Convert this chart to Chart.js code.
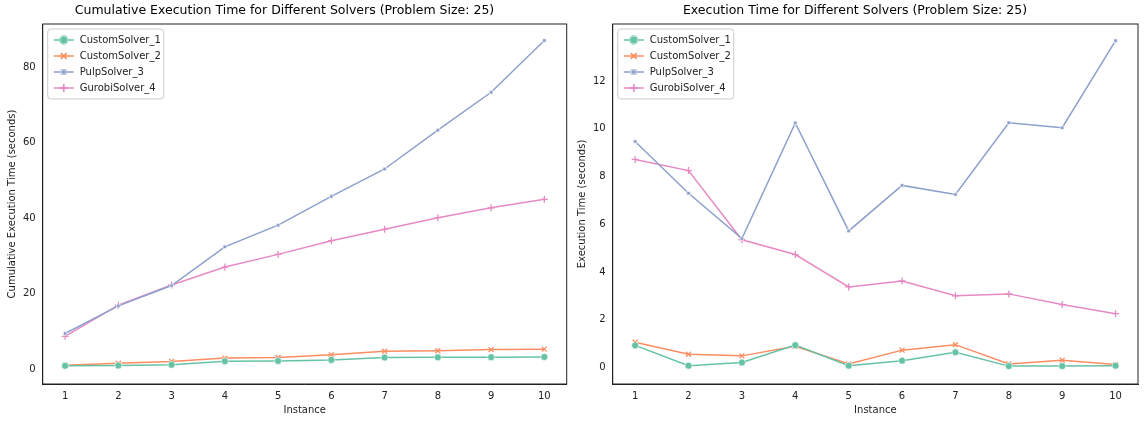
<!DOCTYPE html>
<html lang="en">
<head>
<meta charset="UTF-8">
<title>Solver execution times</title>
<style>
    body { margin: 0; background: #fff; font-family: "DejaVu Sans", sans-serif; }
    .box { position: absolute; top: 0; height: 424px; }
    #left { left: 0; width: 572px; }
    #right { left: 572px; width: 572px; }
</style>
</head>
<body>
<div class="box" id="left"><canvas id="cum-chart"></canvas></div>
<div class="box" id="right"><canvas id="exec-chart"></canvas></div>

<script src="https://cdn.jsdelivr.net/npm/chart.js"></script>
<script>
var instances = [1, 2, 3, 4, 5, 6, 7, 8, 9, 10];
var solverNames = ['CustomSolver_1', 'CustomSolver_2', 'PulpSolver_3', 'GurobiSolver_4'];

// execution time per instance (seconds)
var custom1 = [0.92, 0.07, 0.20, 0.93, 0.07, 0.28, 0.63, 0.05, 0.05, 0.07];
var custom2 = [1.05, 0.55, 0.48, 0.88, 0.14, 0.72, 0.95, 0.14, 0.30, 0.12];
var pulp3 = [9.47, 7.30, 5.40, 10.25, 5.72, 7.63, 7.25, 10.26, 10.05, 13.70];
var gurobi4 = [8.72, 8.25, 5.35, 4.73, 3.37, 3.62, 3.00, 3.08, 2.63, 2.25];

// cumulative execution time (seconds)
var custom1Cum = [0.92, 0.99, 1.19, 2.12, 2.19, 2.47, 3.10, 3.15, 3.20, 3.27];
var custom2Cum = [1.05, 1.60, 2.08, 2.96, 3.10, 3.82, 4.77, 4.91, 5.21, 5.33];
var pulp3Cum = [9.47, 16.77, 22.17, 32.42, 38.14, 45.77, 53.02, 63.28, 73.33, 87.03];
var gurobi4Cum = [8.72, 16.97, 22.32, 27.05, 30.42, 34.04, 37.04, 40.12, 42.75, 45.00];

var colors = ['#66c2a5', '#fc8d62', '#8da0cb', '#e78ac3'];
var markers = ['circle', 'crossRot', 'rect', 'cross'];
var markerSizes = [3.5, 3.5, 2.5, 3.5];

Chart.defaults.font.family = '"DejaVu Sans", sans-serif';
Chart.defaults.color = '#222';

function makeSets(seriesList) {
    return seriesList.map(function (vals, i) {
        return {
            label: solverNames[i],
            data: vals.map(function (v, j) { return { x: instances[j], y: v }; }),
            borderColor: colors[i],
            backgroundColor: colors[i],
            pointBorderColor: (markers[i] === 'circle' || markers[i] === 'rect') ? '#fff' : colors[i],
            pointBorderWidth: (markers[i] === 'circle' || markers[i] === 'rect') ? 0.6 : 1.3,
            pointStyle: markers[i],
            pointRadius: markerSizes[i],
            borderWidth: 1.5,
            tension: 0
        };
    });
}

// frame around plot area + legend inside top-left
var framePlugin = {
    id: 'frameLegend',
    afterDraw: function (chart) {
        var c = chart.ctx, a = chart.chartArea;
        c.save();
        c.strokeStyle = '#222';
        c.lineWidth = 1;
        c.strokeRect(a.left, a.top, a.right - a.left, a.bottom - a.top);
        var x = a.left + 5, y = a.top + 5, w = 116, rowH = 16;
        c.fillStyle = 'rgba(255,255,255,0.85)';
        c.strokeStyle = '#ccc';
        c.beginPath();
        c.roundRect(x, y, w, rowH * 4 + 6, 3);
        c.fill(); c.stroke();
        c.font = '10px "DejaVu Sans", sans-serif';
        c.textBaseline = 'middle';
        chart.data.datasets.forEach(function (ds, i) {
            var ly = y + 11 + i * rowH;
            c.strokeStyle = ds.borderColor;
            c.lineWidth = 1.5;
            c.beginPath(); c.moveTo(x + 6, ly); c.lineTo(x + 26, ly); c.stroke();
            Chart.helpers.drawPoint(c, {
                pointStyle: ds.pointStyle, radius: ds.pointRadius + 0.5, borderWidth: ds.pointBorderWidth
            }, x + 16, ly);
            c.fillStyle = ds.backgroundColor;
            c.strokeStyle = ds.pointBorderColor;
            c.lineWidth = ds.pointBorderWidth;
            Chart.helpers.drawPoint(c, {
                pointStyle: ds.pointStyle, radius: ds.pointRadius + 0.5, borderWidth: ds.pointBorderWidth
            }, x + 16, ly);
            c.fillStyle = '#222';
            c.fillText(ds.label, x + 32, ly);
        });
        c.restore();
    }
};

function makeChart(id, sets, title, yTitle, yMin, yMax, yStep, pad) {
    new Chart(document.getElementById(id), {
        type: 'line',
        data: { datasets: sets },
        options: {
            responsive: true,
            maintainAspectRatio: false,
            animation: false,
            layout: { padding: pad },
            plugins: {
                legend: { display: false },
                title: { display: true, text: title, font: { size: 12.5, weight: 'normal' }, color: '#000', padding: { top: 3, bottom: 6 } }
            },
            scales: {
                x: {
                    type: 'linear', min: 0.58, max: 10.42,
                    afterBuildTicks: function (ax) { ax.ticks = instances.map(function (v) { return { value: v }; }); },
                    grid: { display: false, drawTicks: true, tickLength: 4 },
                    border: { color: '#222' },
                    ticks: { font: { size: 10 }, color: '#222', padding: 2 },
                    title: { display: true, text: 'Instance', font: { size: 10 }, padding: { top: 0 } }
                },
                y: {
                    min: yMin, max: yMax,
                    grid: { display: false, drawTicks: true, tickLength: 4 },
                    border: { color: '#222' },
                    ticks: {
                        stepSize: yStep, font: { size: 10 }, color: '#222', padding: 3,
                        callback: function (v) { return (v % yStep === 0) ? v : ''; }
                    },
                    title: { display: true, text: yTitle, font: { size: 10 }, padding: { bottom: 2 } }
                }
            }
        },
        plugins: [framePlugin]
    });
}

var cumSets = makeSets([custom1Cum, custom2Cum, pulp3Cum, gurobi4Cum]);
var execSets = makeSets([custom1, custom2, pulp3, gurobi4]);

makeChart('cum-chart', cumSets, 'Cumulative Execution Time for Different Solvers (Problem Size: 25)',
    'Cumulative Execution Time (seconds)', -3.9, 91.4, 20, { left: 2, right: 5, top: 0, bottom: 4 });
makeChart('exec-chart', execSets, 'Execution Time for Different Solvers (Problem Size: 25)',
    'Execution Time (seconds)', -0.7, 14.4, 2, { left: 0, right: 6, top: 0, bottom: 4 });
</script>
</body>
</html>
